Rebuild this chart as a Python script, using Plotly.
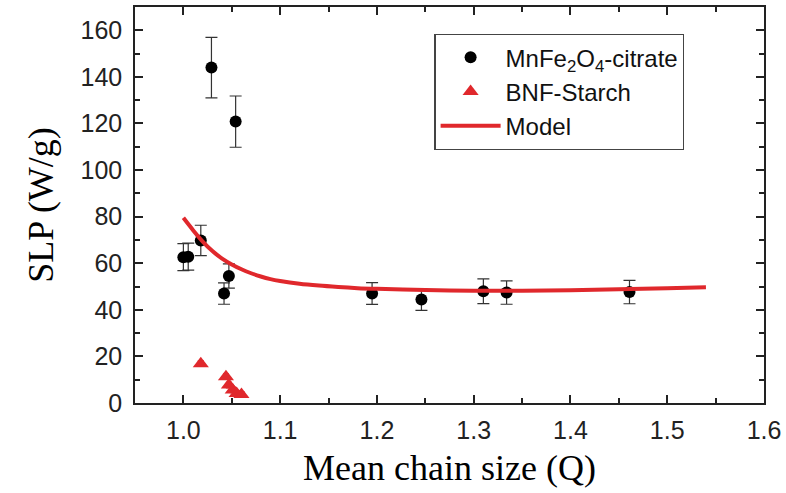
import plotly.graph_objects as go

# MnFe2O4-citrate data
mn_q = [1.000, 1.005, 1.018, 1.029, 1.042, 1.047, 1.054, 1.195, 1.246, 1.310, 1.334, 1.461]
mn_slp = [62.6, 62.8, 69.8, 144.0, 47.0, 54.5, 120.8, 47.0, 44.4, 48.0, 47.4, 47.6]
mn_err = [5.8, 5.8, 6.5, 13.0, 4.6, 5.2, 11.0, 4.7, 4.6, 5.3, 5.0, 5.0]

# BNF-Starch data
bnf_q = [1.018, 1.044, 1.047, 1.051, 1.055, 1.060]
bnf_slp = [16.9, 11.3, 7.7, 5.6, 4.1, 3.7]
bnf_err = [1.2, 1.2, 1.2, 1.2, 1.2, 1.2]

# Model curve
model_q = [1.00, 1.01, 1.02, 1.03, 1.04, 1.05, 1.06, 1.07, 1.08, 1.09, 1.10, 1.12, 1.14,
           1.16, 1.18, 1.20, 1.25, 1.30, 1.35, 1.40, 1.45, 1.50, 1.54]
model_slp = [79.5, 74.2, 69.3, 65.2, 62.0, 59.5, 57.4, 55.7, 54.3, 53.2, 52.4, 51.2, 50.4,
             49.8, 49.3, 49.0, 48.5, 48.2, 48.2, 48.4, 48.8, 49.3, 49.7]

red = "#E0282C"

fig = go.Figure()
fig.add_trace(go.Scatter(
    x=mn_q, y=mn_slp, mode="markers", name="MnFe<sub>2</sub>O<sub>4</sub>-citrate",
    marker=dict(symbol="circle", size=12, color="black"),
    error_y=dict(type="data", array=mn_err, color="#333333", thickness=1.2, width=6),
))
fig.add_trace(go.Scatter(
    x=bnf_q, y=bnf_slp, mode="markers", name="BNF-Starch",
    marker=dict(symbol="triangle-up", size=14, color=red),
    error_y=dict(type="data", array=bnf_err, color=red, thickness=1.2, width=3),
))
fig.add_trace(go.Scatter(
    x=model_q, y=model_slp, mode="lines", name="Model",
    line=dict(color=red, width=4, shape="spline", smoothing=0.8),
))

axis_common = dict(
    showline=True, linecolor="#222222", linewidth=1.5, mirror="ticks",
    ticks="inside", ticklen=8, tickwidth=1.5, tickcolor="#222222",
    showgrid=False, zeroline=False,
    tickfont=dict(family="Liberation Sans, Arial", size=25, color="#222222"),
)

fig.update_layout(
    width=786, height=493,
    margin=dict(l=135, r=21, t=5, b=90),
    paper_bgcolor="white", plot_bgcolor="white",
    xaxis=dict(
        range=[0.95, 1.6], tickmode="array",
        tickvals=[1.0, 1.1, 1.2, 1.3, 1.4, 1.5, 1.6],
        ticktext=["1.0", "1.1", "1.2", "1.3", "1.4", "1.5", "1.6"],
        minor=dict(ticks="inside", ticklen=5, tickwidth=1.5, tickcolor="#222222", dtick=0.05, tick0=0.95),
        title=dict(text="Mean chain size (Q)", font=dict(family="Liberation Serif, Times New Roman", size=36, color="black"), standoff=12),
        ticklabelstandoff=4,
        **axis_common,
    ),
    yaxis=dict(
        range=[0, 170], tickmode="array",
        tickvals=[0, 20, 40, 60, 80, 100, 120, 140, 160],
        minor=dict(ticks="inside", ticklen=5, tickwidth=1.5, tickcolor="#222222", dtick=10, tick0=0),
        title=dict(text="SLP (W/g)", font=dict(family="Liberation Serif, Times New Roman", size=36, color="black"), standoff=16),
        ticklabelstandoff=6,
        **axis_common,
    ),
    legend=dict(
        x=0.476, y=0.932, xanchor="left", yanchor="top",
        bgcolor="white", bordercolor="#444444", borderwidth=1.2,
        font=dict(family="Liberation Sans, Arial", size=24, color="#111111"),
        tracegroupgap=0, itemwidth=60,
    ),
    showlegend=True,
)

fig.write_html("out.html")
